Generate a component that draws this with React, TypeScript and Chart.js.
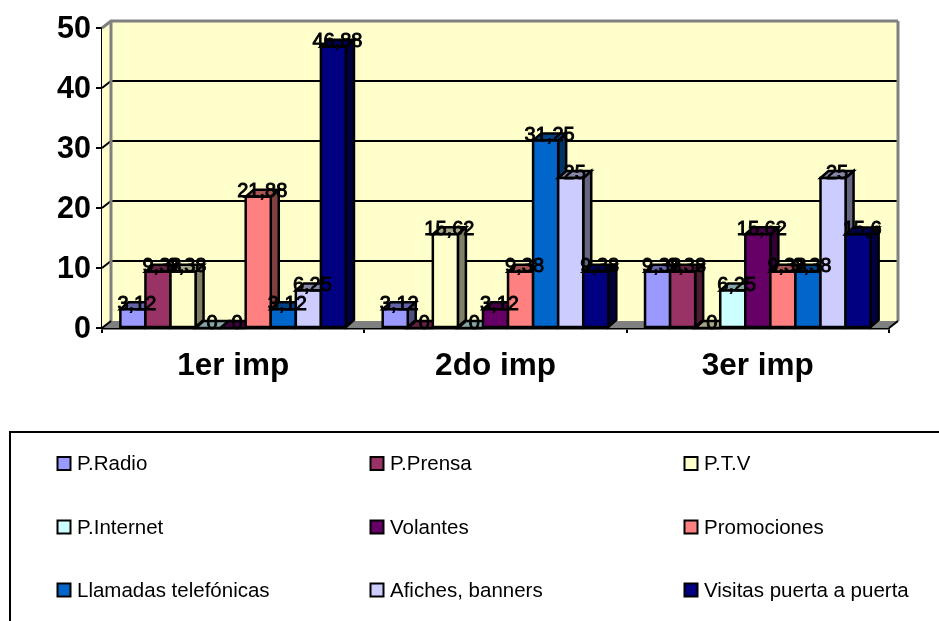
import React, { useEffect, useRef } from "react";
import { Chart, registerables } from "chart.js";

Chart.register(...registerables);

const categories = ["1er imp", "2do imp", "3er imp"];
const seriesNames = [
  "P.Radio",
  "P.Prensa",
  "P.T.V",
  "P.Internet",
  "Volantes",
  "Promociones",
  "Llamadas telefónicas",
  "Afiches, banners",
  "Visitas puerta a puerta",
];
const seriesColors = [
  "#9999FF",
  "#993366",
  "#FFFFCC",
  "#CCFFFF",
  "#660066",
  "#FF8080",
  "#0066CC",
  "#CCCCFF",
  "#000080",
];
const pRadio = [3.12, 3.12, 9.38];
const pPrensa = [9.38, 0, 9.38];
const pTv = [9.38, 15.62, 0];
const pInternet = [0, 0, 6.25];
const volantes = [0, 3.12, 15.62];
const promociones = [21.88, 9.38, 9.38];
const llamadas = [3.12, 31.25, 9.38];
const afiches = [6.25, 25, 25];
const visitas = [46.88, 9.38, 15.6];
const seriesValues = [pRadio, pPrensa, pTv, pInternet, volantes, promociones, llamadas, afiches, visitas];

const FONT = "'Liberation Sans', Arial, sans-serif";
const WALL_DX = 9;
const WALL_DY = 7;
const BAR_DX = 8;
const BAR_DY = 7;
const BAR_LINE = 2.5;
const GREY = "#808080";

function shade(hex: string, k: number): string {
  const n = parseInt(hex.slice(1), 16);
  const r = Math.round(((n >> 16) & 255) * k);
  const g = Math.round(((n >> 8) & 255) * k);
  const b = Math.round((n & 255) * k);
  return `rgb(${r},${g},${b})`;
}

function polygon(ctx: CanvasRenderingContext2D, pts: number[][], fill: string, stroke: string | null, lw = 2) {
  ctx.beginPath();
  pts.forEach(([x, y], i) => (i ? ctx.lineTo(x, y) : ctx.moveTo(x, y)));
  ctx.closePath();
  ctx.fillStyle = fill;
  ctx.fill();
  if (stroke) {
    ctx.strokeStyle = stroke;
    ctx.lineWidth = lw;
    ctx.lineJoin = "miter";
    ctx.stroke();
  }
}

// Back wall, side wall, floor and gridlines of the 3D box.
const wallsPlugin = {
  id: "walls",
  beforeDatasetsDraw(chart: any) {
    const { ctx, chartArea: a, scales } = chart;
    const y = scales.y;
    ctx.save();
    polygon(ctx, [[a.left, a.top], [a.left + WALL_DX, a.top - WALL_DY], [a.left + WALL_DX, a.bottom - WALL_DY], [a.left, a.bottom]], "#FFFFCC", null);
    polygon(ctx, [[a.left + WALL_DX, a.top - WALL_DY], [a.right + WALL_DX, a.top - WALL_DY], [a.right + WALL_DX, a.bottom - WALL_DY], [a.left + WALL_DX, a.bottom - WALL_DY]], "#FFFFCC", null);
    polygon(ctx, [[a.left, a.bottom], [a.left + WALL_DX, a.bottom - WALL_DY], [a.right + WALL_DX, a.bottom - WALL_DY], [a.right, a.bottom]], GREY, null);

    y.ticks.forEach((t: any) => {
      if (t.value === 0) return;
      const py = y.getPixelForValue(t.value);
      const top = t.value === y.max;
      ctx.beginPath();
      ctx.moveTo(a.left, py);
      ctx.lineTo(a.left + WALL_DX, py - WALL_DY);
      ctx.lineTo(a.right + WALL_DX, py - WALL_DY);
      ctx.strokeStyle = top ? GREY : "#000";
      ctx.lineWidth = top ? 3 : 2;
      ctx.stroke();
    });

    ctx.beginPath();
    ctx.moveTo(a.left + WALL_DX, a.top - WALL_DY);
    ctx.lineTo(a.left + WALL_DX, a.bottom - WALL_DY);
    ctx.moveTo(a.right + WALL_DX, a.top - WALL_DY);
    ctx.lineTo(a.right + WALL_DX, a.bottom - WALL_DY);
    ctx.strokeStyle = GREY;
    ctx.lineWidth = 3;
    ctx.stroke();

    ctx.beginPath();
    ctx.moveTo(a.right, a.bottom);
    ctx.lineTo(a.right + WALL_DX, a.bottom - WALL_DY);
    ctx.moveTo(a.left, a.bottom);
    ctx.lineTo(a.left + WALL_DX, a.bottom - WALL_DY);
    ctx.strokeStyle = "#000";
    ctx.lineWidth = 2;
    ctx.stroke();
    ctx.restore();
  },
};

// Bars are painted left to right with their depth faces, then the value labels on top.
const bars3dPlugin = {
  id: "bars3d",
  beforeDatasetDraw() {
    return false;
  },
  afterDatasetsDraw(chart: any) {
    const { ctx } = chart;
    ctx.save();
    const metas = chart.data.datasets.map((_: any, i: number) => chart.getDatasetMeta(i));
    categories.forEach((_, c) => {
      metas.forEach((meta: any, i: number) => {
        const el = meta.data[c];
        const { x, y, base, width } = el.getProps(["x", "y", "base", "width"], true);
        const l = x - width / 2;
        const r = x + width / 2;
        const color = seriesColors[i];
        polygon(ctx, [[r, y], [r + BAR_DX, y - BAR_DY], [r + BAR_DX, base - BAR_DY], [r, base]], shade(color, 0.5), "#000", BAR_LINE);
        polygon(ctx, [[l, y], [l + BAR_DX, y - BAR_DY], [r + BAR_DX, y - BAR_DY], [r, y]], shade(color, 0.65), "#000", BAR_LINE);
        if (base - y > 0.5) {
          el.draw(ctx);
          ctx.strokeStyle = "#000";
          ctx.lineWidth = BAR_LINE;
          ctx.strokeRect(l, y, r - l, base - y);
        }
      });
    });
    ctx.fillStyle = "#000";
    ctx.strokeStyle = "#000";
    ctx.lineWidth = 0.9;
    ctx.font = `20px ${FONT}`;
    ctx.textAlign = "center";
    ctx.textBaseline = "middle";
    metas.forEach((meta: any, i: number) => {
      meta.data.forEach((el: any, c: number) => {
        const { x, y } = el.getProps(["x", "y"], true);
        const text = String(seriesValues[i][c]).replace(".", ",");
        ctx.fillText(text, x + 4, y - 5);
        ctx.strokeText(text, x + 4, y - 5);
      });
    });
    ctx.restore();
  },
};

// Three by three legend in an open-sided frame under the plot.
const legendPlugin = {
  id: "frameLegend",
  afterDraw(chart: any) {
    const { ctx } = chart;
    const columns = [57, 370, 684];
    const rows = [463.5, 527, 590];
    ctx.save();
    ctx.strokeStyle = "#000";
    ctx.lineWidth = 2;
    ctx.beginPath();
    ctx.moveTo(10, 621);
    ctx.lineTo(10, 432);
    ctx.lineTo(939, 432);
    ctx.stroke();
    ctx.font = `20.5px ${FONT}`;
    ctx.textAlign = "left";
    ctx.textBaseline = "middle";
    seriesNames.forEach((name, i) => {
      const sx = columns[i % 3];
      const cy = rows[Math.floor(i / 3)];
      ctx.fillStyle = seriesColors[i];
      ctx.fillRect(sx + 0.5, cy - 6.5, 13, 13);
      ctx.strokeRect(sx + 0.5, cy - 6.5, 13, 13);
      ctx.fillStyle = "#000";
      ctx.fillText(name, sx + 20, cy + 1);
    });
    ctx.restore();
  },
};

export default function App() {
  const ref = useRef<HTMLCanvasElement>(null);

  useEffect(() => {
    if (!ref.current) return;
    const chart = new Chart(ref.current, {
      type: "bar",
      data: {
        labels: categories,
        datasets: seriesNames.map((label, i) => ({
          label,
          data: seriesValues[i],
          backgroundColor: seriesColors[i],
          borderWidth: 0,
          inflateAmount: 0,
          categoryPercentage: 0.86,
          barPercentage: 1,
        })),
      },
      options: {
        responsive: false,
        animation: false,
        layout: { padding: { top: 28, right: 50, left: 0, bottom: 0 } },
        plugins: { legend: { display: false }, tooltip: { enabled: false } },
        scales: {
          x: {
            afterFit: (s: any) => {
              s.height = 293;
            },
            border: { display: true, color: "#000", width: 2.5 },
            grid: { drawOnChartArea: false, drawTicks: true, tickLength: 5, color: "#000", lineWidth: 2 },
            ticks: { color: "#000", padding: 14, font: { family: FONT, size: 31.5, weight: "bold" }, maxRotation: 0 },
          },
          y: {
            min: 0,
            max: 50,
            afterFit: (s: any) => {
              s.width = 102;
            },
            border: { display: true, color: "#000", width: 2.5 },
            grid: { drawOnChartArea: false, drawTicks: true, tickLength: 6, color: "#000", lineWidth: 2 },
            ticks: { stepSize: 10, color: "#000", padding: 5, labelOffset: 2, font: { family: FONT, size: 30.5, weight: "bold" } },
          },
        },
      } as any,
      plugins: [wallsPlugin, bars3dPlugin, legendPlugin],
    });
    return () => chart.destroy();
  }, []);

  return (
    <div style={{ position: "absolute", left: 0, top: 0, width: 939, height: 621, background: "#fff" }}>
      <canvas ref={ref} width={939} height={621} style={{ display: "block" }} />
    </div>
  );
}
